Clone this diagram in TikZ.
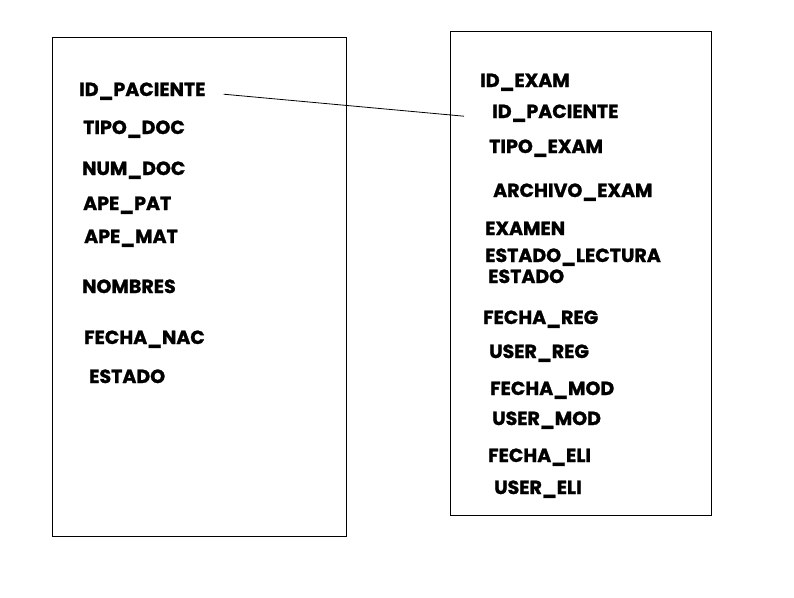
\documentclass[tikz,border=0pt]{standalone}
\usepackage{fontspec}
\newfontfamily\fldfont{Poppins}[UprightFont=* Bold, FakeBold=1.3]
\tikzset{
  fld/.style={anchor=base west, inner sep=0pt, font=\fontsize{19}{22}\fldfont},
  tbl/.style={draw=black, line width=0.9pt},
  rel/.style={draw=black, line width=0.8pt}
}
\begin{document}
\begin{tikzpicture}[x=1pt,y=-1pt]
\useasboundingbox (0,0) rectangle (794,597);
\draw[tbl] (52.5,37.5) rectangle (346,536);
\draw[tbl] (450.5,31.5) rectangle (711,515);
% left table
\node[fld] (lid)  at (79,96)  {ID\_PACIENTE};
\node[fld] (ltd)  at (83,134) {TIPO\_DOC};
\node[fld] (lnd)  at (82,175) {NUM\_DOC};
\node[fld] (lap)  at (83,210) {APE\_PAT};
\node[fld] (lam)  at (84,243) {APE\_MAT};
\node[fld] (lno)  at (82,293) {NOMBRES};
\node[fld] (lfn)  at (84,344) {FECHA\_NAC};
\node[fld] (les)  at (89,383) {ESTADO};
% right table
\node[fld] (rie)  at (480,87)  {ID\_EXAM};
\node[fld] (rip)  at (492,118) {ID\_PACIENTE};
\node[fld] (rte)  at (489,153) {TIPO\_EXAM};
\node[fld] (rae)  at (493,197) {ARCHIVO\_EXAM};
\node[fld] (rex)  at (485,235) {EXAMEN};
\node[fld] (rel)  at (485,262) {ESTADO\_LECTURA};
\node[fld] (res)  at (488,283) {ESTADO};
\node[fld] (rfr)  at (483,324) {FECHA\_REG};
\node[fld] (rur)  at (489,358) {USER\_REG};
\node[fld] (rfm)  at (490,395) {FECHA\_MOD};
\node[fld] (rum)  at (492,425) {USER\_MOD};
\node[fld] (rfe)  at (488,462) {FECHA\_ELI};
\node[fld] (rue)  at (494,494) {USER\_ELI};
\coordinate (a) at ([xshift=18pt,yshift=-3pt]lid.east);
\coordinate (b) at ([xshift=-28pt,yshift=-3pt]rip.west);
\draw[rel] (a) -- (b);
\end{tikzpicture}
\end{document}
